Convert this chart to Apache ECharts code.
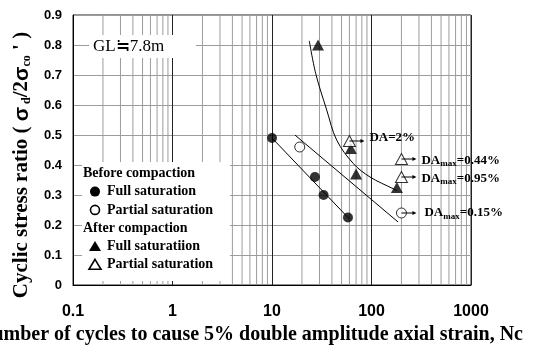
<!DOCTYPE html>
<html><head><meta charset="utf-8">
<script src="https://cdn.jsdelivr.net/npm/echarts@6/dist/echarts.min.js"></script>
<style>html,body{margin:0;padding:0;background:#fff}#c{width:538px;height:347px}</style>
</head><body><div id="c"></div>
<script>
// ---- data ----
const xTickLabels = ['0.1', '1', '10', '100', '1000'];
const decades = [0.1, 1, 10, 100];
const beforeFull = [[10, 0.49], [27, 0.36], [33, 0.30], [58, 0.225]];
const beforePartial = [[19, 0.46], [200, 0.24]];
const afterFull = [[29, 0.80], [62, 0.455], [70, 0.37], [180, 0.325]];
const afterPartial = [[60, 0.48], [200, 0.42], [200, 0.36]];
const fitBeforeFull = [[10, 0.49], [60, 0.22]];
const fitBeforePartial = [[17, 0.50], [185, 0.21]];
const fitAfter = [[23.7, 0.814], [27.5, 0.705], [35.5, 0.583], [44.7, 0.483], [65.6, 0.405], [96.6, 0.36], [165, 0.321], [180, 0.315]];
const annotationMain = ['DA', 'DA', 'DA', 'DA'];
const annotationSub = ['', 'max', 'max', 'max'];
const annotationRest = ['=2%', '=0.44%', '=0.95%', '=0.15%'];
const annotationAnchor = [afterPartial[0], afterPartial[1], afterPartial[2], beforePartial[1]];
const legendTitles = ['Before compaction', 'After compaction'];
const legendNames = [['Full saturation', 'Partial saturation'], ['Full saturatiion', 'Partial saturation']];
const siteLabel = 'GL≒7.8m';

// ---- helpers ----
const minorX = [];
decades.forEach(d => { for (let k = 2; k <= 9; k++) minorX.push(+(d * k).toPrecision(3)); });

const SERIF = '"Times New Roman", "Liberation Serif", serif';
const SANS = 'Arial, "Liberation Sans", sans-serif';
const YMIN = 0, YMAX = 0.9;

const chart = echarts.init(document.getElementById('c'), null, { renderer: 'canvas' });

const blk = '#000';
function scatter(name, data, symbol, filled, size) {
  return {
    name, type: 'scatter', data, symbol, symbolSize: size, z: 4,
    itemStyle: { color: filled ? blk : '#fff', borderColor: blk, borderWidth: filled ? 0 : 1 },
    emphasis: { disabled: true }, silent: true
  };
}
function fit(data, smooth) {
  return {
    type: 'line', data, showSymbol: false, symbol: 'none', smooth: smooth || false, z: 3,
    lineStyle: { color: blk, width: 1 }, silent: true
  };
}

chart.setOption({
  animation: false,
  backgroundColor: '#fff',
  grid: { left: 73, right: 67, top: 15, bottom: 62, outerBoundsMode: 'none', containLabel: false,
          show: true, borderColor: '#222', borderWidth: 1, backgroundColor: 'transparent' },
  xAxis: {
    type: 'log', logBase: 10, min: 0.1, max: 1000,
    axisLine: { lineStyle: { color: blk, width: 1 } },
    axisTick: { show: false },
    splitLine: { show: true, lineStyle: { color: '#222', width: 1 } },
    axisLabel: {
      margin: 19, fontFamily: SANS, fontWeight: 'bold', fontSize: 16, color: blk,
      showMinLabel: true, showMaxLabel: true,
      formatter: v => xTickLabels[Math.round(Math.log10(v)) + 1]
    },
    name: 'Number of cycles to cause 5% double amplitude axial strain, Nc',
    nameLocation: 'middle', nameGap: 37,
    nameTextStyle: { fontFamily: SERIF, fontWeight: 'bold', fontSize: 20, color: blk, padding: [0, 43, 0, 0] }
  },
  yAxis: {
    type: 'value', min: YMIN, max: YMAX, interval: 0.1,
    axisLine: { show: true, lineStyle: { color: blk, width: 1 } },
    axisTick: { show: false },
    splitLine: { show: true, lineStyle: { color: '#9c9c9c', width: 1 } },
    axisLabel: { margin: 11, fontFamily: SANS, fontWeight: 'bold', fontSize: 13, color: blk },
    name: '{n|Cyclic stress ratio ( }{g|σ}{s| d}{n|/2}{g|σ}{s|co}{n| \' )}',
    nameLocation: 'middle', nameGap: 40, nameRotate: 90,
    nameTextStyle: {
      padding: [0, 30, 0, 0],
      rich: {
        n: { fontFamily: SERIF, fontWeight: 'bold', fontSize: 21, color: blk, lineHeight: 22 },
        g: { fontFamily: SANS, fontWeight: 'bold', fontSize: 21, color: blk, lineHeight: 22 },
        s: { fontFamily: SERIF, fontWeight: 'bold', fontSize: 12, color: blk, lineHeight: 22, verticalAlign: 'bottom' }
      }
    }
  },
  series: [
    {
      type: 'custom', data: minorX, z: 0, silent: true,
      renderItem: (params, api) => {
        const v = api.value(0);
        const a = api.coord([v, YMIN]);
        const b = api.coord([v, YMAX]);
        return { type: 'line', shape: { x1: a[0], y1: a[1], x2: b[0], y2: b[1] },
                 style: { stroke: '#9c9c9c', lineWidth: 1 } };
      },
      encode: { x: 0 }
    },
    fit(fitBeforeFull),
    fit(fitBeforePartial),
    fit(fitAfter, 0.35),
    scatter('Before: Full saturation', beforeFull, 'circle', true, 10),
    scatter('Before: Partial saturation', beforePartial, 'circle', false, 10),
    scatter('After: Full saturatiion', afterFull, 'triangle', true, [12, 11]),
    scatter('After: Partial saturation', afterPartial, 'triangle', false, [12, 11])
  ]
});

// ---- overlays: legend box, site label, annotations ----
const g = [];
g.push({ type: 'rect', z: 50, shape: { x: 82, y: 162, width: 148, height: 119 }, style: { fill: '#fff' } });
g.push({ type: 'rect', z: 50, shape: { x: 89, y: 35, width: 107, height: 23 }, style: { fill: '#fff' } });
g.push({ type: 'text', z: 51, x: 93, y: 47, style: { text: siteLabel, fontFamily: SERIF, fontSize: 17, fill: blk, verticalAlign: 'middle' } });

const legFont = { fontFamily: SERIF, fontWeight: 'bold', fontSize: 14, fill: blk, verticalAlign: 'middle' };
let ry = 173.3;
const step = 18.3;
legendTitles.forEach((t, gi) => {
  g.push({ type: 'text', z: 51, x: 83, y: ry, style: Object.assign({ text: t }, legFont) });
  ry += step;
  legendNames[gi].forEach((nm, ii) => {
    const filled = ii === 0;
    if (gi === 0) {
      g.push({ type: 'circle', z: 51, shape: { cx: 95, cy: ry, r: filled ? 5 : 4.5 },
        style: { fill: filled ? blk : '#fff', stroke: blk, lineWidth: filled ? 0 : 1.6 } });
    } else {
      g.push({ type: 'polygon', z: 51, shape: { points: [[95, ry - 5.5], [101, ry + 4.5], [89, ry + 4.5]] },
        style: { fill: filled ? blk : '#fff', stroke: blk, lineWidth: filled ? 0 : 1.6 } });
    }
    g.push({ type: 'text', z: 51, x: 107, y: ry, style: Object.assign({ text: nm }, legFont) });
    ry += step;
  });
});

annotationAnchor.forEach((pt, i) => {
  const p = chart.convertToPixel({ gridIndex: 0 }, pt);
  const ax = p[0], ay = p[1];
  const endX = ax + 15;
  g.push({ type: 'line', z: 51, shape: { x1: ax, y1: ay, x2: endX - 3, y2: ay }, style: { stroke: blk, lineWidth: 1 } });
  g.push({ type: 'polygon', z: 51, shape: { points: [[endX, ay], [endX - 4, ay - 2], [endX - 4, ay + 2]] }, style: { fill: blk } });
  const txt = annotationSub[i]
    ? '{m|' + annotationMain[i] + '}{s|' + annotationSub[i] + '}{m|' + annotationRest[i] + '}'
    : '{m|' + annotationMain[i] + annotationRest[i] + '}';
  const dy = i === 0 ? -3 : (i === 3 ? 0 : 1.5);
  const dx = i === 3 ? 23 : 20;
  g.push({
    type: 'text', z: 51, x: ax + dx, y: ay + dy,
    style: {
      text: txt, verticalAlign: 'middle',
      rich: {
        m: { fontFamily: SERIF, fontWeight: 'bold', fontSize: 13, fill: blk, lineHeight: 16 },
        s: { fontFamily: SERIF, fontWeight: 'bold', fontSize: 9, fill: blk, lineHeight: 16, verticalAlign: 'bottom' }
      }
    }
  });
});

chart.setOption({ graphic: { elements: g } });
</script>
</body></html>
